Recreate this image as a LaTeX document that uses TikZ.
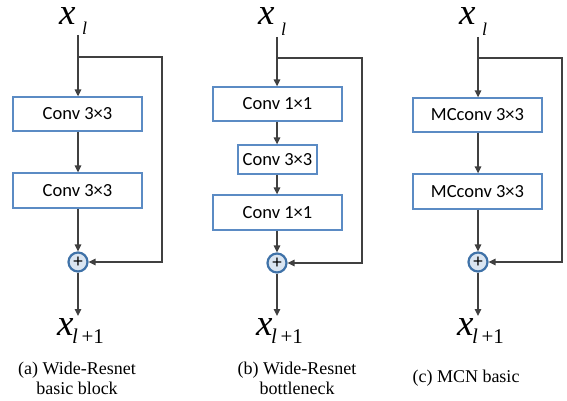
\documentclass[tikz,border=0pt]{standalone}
\usepackage{fontspec}
\setmainfont{Liberation Serif}
\newfontfamily\boxfont{Carlito}
\usetikzlibrary{arrows.meta}

\definecolor{wirecol}{HTML}{404040}
\definecolor{boxedge}{HTML}{5B8BC4}
\definecolor{sumfill}{HTML}{DAE5F1}
\definecolor{sumedge}{HTML}{3F72A8}

\tikzset{
  conv/.style={draw=boxedge, line width=1.3pt, fill=white, minimum width=129pt,
    minimum height=34pt, inner sep=0pt, font=\boxfont\fontsize{18.5}{18.5}\selectfont},
  sumnode/.style={circle, draw=sumedge, line width=2.2pt, fill=sumfill, minimum size=19pt,
    inner sep=0pt, font=\boxfont\fontsize{19}{19}\selectfont},
  wire/.style={draw=wirecol, line width=1.4pt},
  flow/.style={wire, -{Triangle[length=7pt,width=6.5pt]}},
  bigx/.style={font=\fontsize{37}{37}\selectfont\itshape, anchor=base west, inner sep=0pt,
    text height=17pt, text depth=0pt},
  subl/.style={font=\fontsize{18}{18}\selectfont\itshape, anchor=base west, inner sep=0pt},
  subout/.style={font=\fontsize{21}{21}\selectfont, anchor=base west, inner sep=0pt},
  caption/.style={font=\fontsize{18}{20}\selectfont, align=center, inner sep=0pt}
}

\begin{document}
\begin{tikzpicture}[x=1pt, y=-1pt]
\useasboundingbox (0,0) rectangle (567,401);

% ---------- (a) Wide-Resnet basic block ----------
\node[bigx] (a-x) at (59,25) {x};
\node[subl] (a-l) at (82,35) {l};
\coordinate (a-in) at (78,35);
\coordinate (a-br) at (78,57);
\coordinate (a-rt) at (162,57);
\node[conv] (a-c1) at (77.5,114) {Conv 3×3};
\node[conv, minimum height=35pt] (a-c2) at (77.5,190.5) {Conv 3×3};
\node[sumnode] (a-sum) at (78,262) {+};
\coordinate (a-out) at (78,316);
\draw[flow] (a-in) -- (a-c1.north -| a-in);
\draw[flow] (a-c1.south -| a-in) -- (a-c2.north -| a-in);
\draw[flow] (a-c2.south -| a-in) -- (a-sum);
\draw[flow] (a-br) -- (a-rt) |- (a-sum);
\draw[flow] (a-sum) -- (a-out);
\node[bigx] (a-y) at (57,335) {x};
\node[subout] (a-ys) at (72,343) {\textit{l}\,+1};
\node[caption] (a-cap) at (77,378) {(a) Wide-Resnet\\basic block};

% ---------- (b) Wide-Resnet bottleneck ----------
\node[bigx] (b-x) at (258,25) {x};
\node[subl] (b-l) at (281,36) {l};
\coordinate (b-in) at (277,37);
\coordinate (b-br) at (277,58);
\coordinate (b-rt) at (362,58);
\node[conv] (b-c1) at (277.5,104) {Conv 1×1};
\node[conv, minimum width=79pt, minimum height=29pt] (b-c2) at (277.5,159.5) {Conv 3×3};
\node[conv, minimum height=35pt] (b-c3) at (277.5,212.5) {Conv 1×1};
\node[sumnode] (b-sum) at (277,263) {+};
\coordinate (b-out) at (277,316);
\draw[flow] (b-in) -- (b-c1.north -| b-in);
\draw[flow] (b-c1.south -| b-in) -- (b-c2.north -| b-in);
\draw[flow] (b-c2.south -| b-in) -- (b-c3.north -| b-in);
\draw[flow] (b-c3.south -| b-in) -- (b-sum);
\draw[flow] (b-br) -- (b-rt) |- (b-sum);
\draw[flow] (b-sum) -- (b-out);
\node[bigx] (b-y) at (256,335) {x};
\node[subout] (b-ys) at (271,343) {\textit{l}\,+1};
\node[caption] (b-cap) at (297,378) {(b) Wide-Resnet\\bottleneck};

% ---------- (c) MCN basic ----------
\node[bigx] (c-x) at (459,25) {x};
\node[subl] (c-l) at (482,36) {l};
\coordinate (c-in) at (478,37);
\coordinate (c-br) at (478,58);
\coordinate (c-rt) at (562,58);
\node[conv] (c-c1) at (477.5,115) {MCconv 3×3};
\node[conv, minimum height=35pt] (c-c2) at (477.5,191.5) {MCconv 3×3};
\node[sumnode] (c-sum) at (478,262) {+};
\coordinate (c-out) at (478,316);
\draw[flow] (c-in) -- (c-c1.north -| c-in);
\draw[flow] (c-c1.south -| c-in) -- (c-c2.north -| c-in);
\draw[flow] (c-c2.south -| c-in) -- (c-sum);
\draw[flow] (c-br) -- (c-rt) |- (c-sum);
\draw[flow] (c-sum) -- (c-out);
\node[bigx] (c-y) at (457,335) {x};
\node[subout] (c-ys) at (472,343) {\textit{l}\,+1};
\node[caption] (c-cap) at (466,378) {(c) MCN basic};
\end{tikzpicture}
\end{document}
